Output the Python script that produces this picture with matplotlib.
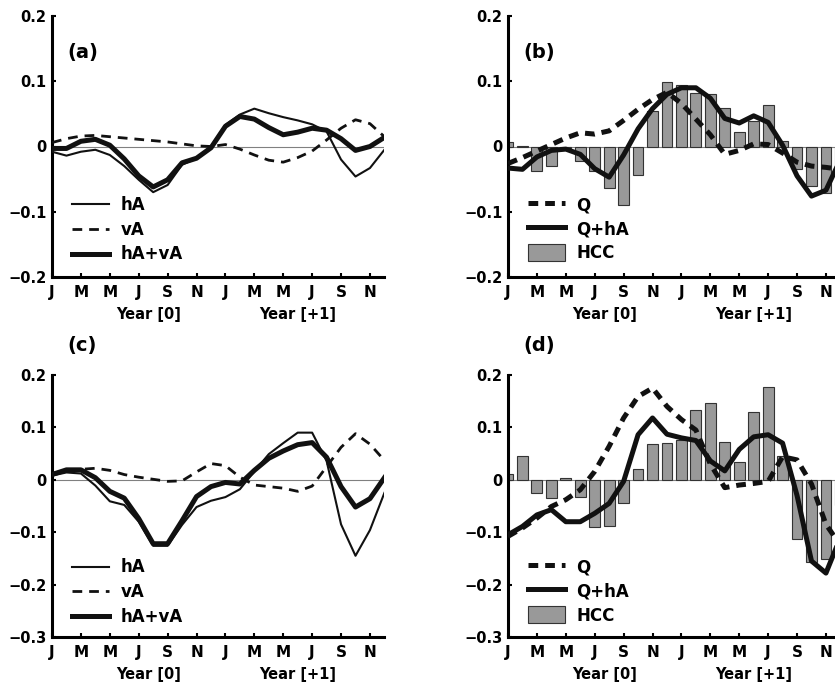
import matplotlib
matplotlib.use('Agg')
import matplotlib.pyplot as plt
import matplotlib.transforms as mtransforms
import numpy as np

# months Jan year 0 .. Dec year +1
months = np.arange(1, 25)
month_ticks = np.arange(1, 24, 2)
month_labels = ['J', 'M', 'M', 'J', 'S', 'N', 'J', 'M', 'M', 'J', 'S', 'N']
year_labels = ['Year [0]', 'Year [+1]']
year_pos = [7.7, 18.0]

# panel (a)
a_hA = [-0.008, -0.014, -0.008, -0.005, -0.013, -0.030, -0.051, -0.070, -0.059, -0.028, -0.018, 0.000,
        0.033, 0.049, 0.058, 0.051, 0.045, 0.040, 0.034, 0.023, -0.020, -0.046, -0.033, -0.005]
a_vA = [0.006, 0.012, 0.016, 0.017, 0.015, 0.013, 0.011, 0.009, 0.007, 0.004, 0.001, 0.000,
        0.003, -0.004, -0.013, -0.021, -0.024, -0.017, -0.007, 0.010, 0.028, 0.041, 0.035, 0.015]
a_hAvA = [-0.003, -0.003, 0.008, 0.011, 0.002, -0.019, -0.045, -0.062, -0.051, -0.025, -0.018, -0.002,
          0.031, 0.046, 0.042, 0.029, 0.018, 0.022, 0.028, 0.025, 0.012, -0.006, 0.000, 0.014]

# panel (b)
b_Q = [-0.026, -0.017, -0.007, 0.003, 0.013, 0.021, 0.019, 0.024, 0.040, 0.057, 0.072, 0.083,
       0.066, 0.042, 0.018, -0.012, -0.006, 0.004, 0.003, -0.010, -0.024, -0.030, -0.032, -0.035]
b_QhA = [-0.033, -0.035, -0.016, -0.006, -0.004, -0.012, -0.034, -0.047, -0.013, 0.027, 0.058, 0.080,
         0.090, 0.090, 0.074, 0.043, 0.036, 0.047, 0.037, 0.002, -0.045, -0.076, -0.067, -0.020]
b_HCC = [0.007, 0.001, -0.038, -0.030, -0.003, -0.022, -0.038, -0.064, -0.090, -0.044, 0.055, 0.099,
         0.094, 0.082, 0.080, 0.059, 0.022, 0.039, 0.064, 0.009, -0.035, -0.060, -0.071, -0.045]

# panel (c)
c_hA = [0.008, 0.014, 0.012, -0.011, -0.041, -0.048, -0.080, -0.126, -0.126, -0.086, -0.052, -0.040,
        -0.033, -0.018, 0.016, 0.049, 0.070, 0.090, 0.090, 0.036, -0.085, -0.145, -0.096, -0.025]
c_vA = [0.012, 0.018, 0.020, 0.022, 0.018, 0.010, 0.005, 0.001, -0.003, -0.002, 0.015, 0.031,
        0.027, 0.005, -0.010, -0.013, -0.016, -0.022, -0.012, 0.025, 0.062, 0.088, 0.068, 0.037]
c_hAvA = [0.010, 0.019, 0.019, 0.004, -0.022, -0.035, -0.074, -0.122, -0.122, -0.078, -0.032, -0.013,
          -0.005, -0.008, 0.018, 0.041, 0.055, 0.067, 0.071, 0.043, -0.013, -0.052, -0.036, 0.004]

# panel (d)
d_Q = [-0.108, -0.092, -0.073, -0.051, -0.038, -0.019, 0.016, 0.064, 0.118, 0.159, 0.175, 0.140,
       0.115, 0.095, 0.030, -0.015, -0.010, -0.007, -0.003, 0.044, 0.038, -0.008, -0.085, -0.125]
d_QhA = [-0.105, -0.089, -0.067, -0.057, -0.080, -0.080, -0.064, -0.045, -0.003, 0.086, 0.118, 0.087,
         0.080, 0.075, 0.036, 0.017, 0.058, 0.082, 0.086, 0.070, -0.030, -0.155, -0.178, -0.110]
d_HCC = [0.011, 0.045, -0.025, -0.035, 0.003, -0.033, -0.090, -0.089, -0.045, 0.020, 0.068, 0.070,
         0.076, 0.134, 0.146, 0.072, 0.034, 0.129, 0.177, 0.045, -0.113, -0.157, -0.152, -0.048]

plt.rcParams['font.family'] = 'DejaVu Sans'
plt.rcParams['font.weight'] = 'bold'
plt.rcParams['lines.scale_dashes'] = False

INK = '#111111'
DASH = (7, 5)

fig = plt.figure(figsize=(8.35, 6.86), dpi=100)
W, H = 835.0, 686.0


def make_ax(left, top, bottom):
    # pixel box -> figure fraction; right panels run past the image edge
    return fig.add_axes([left / W, 1 - bottom / H, 332.4 / W, (bottom - top) / H])


def fmt(v):
    if abs(v) < 1e-9:
        return '0'
    return ('%.1f' % v).replace('-', '\u2212')


def style(ax, ylim, yticks, letter, letter_y):
    ax.set_xlim(1, 24)
    ax.set_ylim(*ylim)
    ax.axhline(0, color='#808080', lw=0.8, zorder=1)
    for s in ['top', 'right']:
        ax.spines[s].set_visible(False)
    for s in ['left', 'bottom']:
        ax.spines[s].set_linewidth(2.2)
    ax.set_xticks(month_ticks)
    ax.set_xticklabels(month_labels)
    ax.set_yticks(yticks)
    ax.set_yticklabels([fmt(v) for v in yticks])
    ax.tick_params(direction='in', length=3, width=1.5, labelsize=10.5)
    ax.tick_params(axis='x', pad=6, labelsize=11)
    ax.tick_params(axis='y', pad=4)
    trans = mtransforms.blended_transform_factory(ax.transData, ax.transAxes)
    for xp, lab in zip(year_pos, year_labels):
        ax.text(xp, -0.145, lab, transform=trans, ha='center', va='center', fontsize=10.5)
    ax.text(0.045, letter_y, letter, transform=ax.transAxes, ha='left', va='center', fontsize=14)


def adv_panel(ax, hA, vA, hAvA, anchor_y):
    l1, = ax.plot(months, hA, color=INK, lw=1.5, zorder=3)
    l2, = ax.plot(months, vA, color=INK, lw=2.0, dashes=DASH, zorder=3)
    l3, = ax.plot(months, hAvA, color=INK, lw=3.6, zorder=4)
    ax.legend([l1, l2, l3], ['hA', 'vA', 'hA+vA'], loc='upper left',
              bbox_to_anchor=(0.06, anchor_y), frameon=False, fontsize=12,
              handlelength=2.2, handletextpad=0.7, labelspacing=0.4,
              borderpad=0, borderaxespad=0)


def flux_panel(ax, Q, QhA, HCC, anchor_y):
    bars = ax.bar(months, HCC, width=0.75, color='#999999', edgecolor='#333333',
                  linewidth=0.8, zorder=2)
    l1, = ax.plot(months, Q, color=INK, lw=3.6, dashes=DASH, zorder=3)
    l2, = ax.plot(months, QhA, color=INK, lw=3.6, zorder=4)
    ax.legend([l1, l2, bars], ['Q', 'Q+hA', 'HCC'], loc='upper left',
              bbox_to_anchor=(0.06, anchor_y), frameon=False, fontsize=12,
              handlelength=2.2, handletextpad=0.7, labelspacing=0.35,
              handleheight=1.2, borderpad=0, borderaxespad=0)


top_ticks = [-0.2, -0.1, 0.0, 0.1, 0.2]
bot_ticks = [-0.3, -0.2, -0.1, 0.0, 0.1, 0.2]

ax_a = make_ax(52, 16, 277)
adv_panel(ax_a, a_hA, a_vA, a_hAvA, 0.31)
style(ax_a, (-0.2, 0.2), top_ticks, '(a)', 0.862)

ax_b = make_ax(508, 16, 277)
flux_panel(ax_b, b_Q, b_QhA, b_HCC, 0.31)
style(ax_b, (-0.2, 0.2), top_ticks, '(b)', 0.862)

ax_c = make_ax(52, 375, 637)
adv_panel(ax_c, c_hA, c_vA, c_hAvA, 0.30)
style(ax_c, (-0.3, 0.2), bot_ticks, '(c)', 1.111)

ax_d = make_ax(508, 375, 637)
flux_panel(ax_d, d_Q, d_QhA, d_HCC, 0.30)
style(ax_d, (-0.3, 0.2), bot_ticks, '(d)', 1.111)

fig.savefig('out.png', dpi=100)
